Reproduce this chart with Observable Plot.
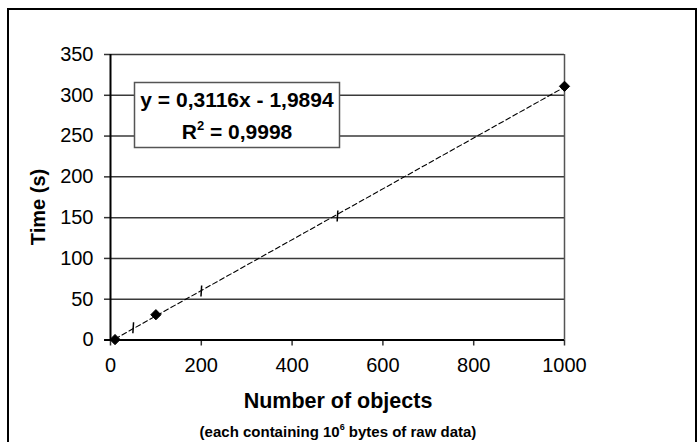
<!DOCTYPE html>
<html>
<head>
<meta charset="utf-8">
<script src="https://cdn.jsdelivr.net/npm/d3@7"></script>
<script src="https://cdn.jsdelivr.net/npm/@observablehq/plot@0.6"></script>
<style>
  html, body { margin: 0; padding: 0; background: #fff; }
  svg { display: block; }
</style>
</head>
<body>
<div id="chart"></div>
<script>
// Measured series (diamond markers)
const diamondObjects = [10, 100, 1000];
const diamondTimes   = [0.5, 31, 311];
// Measured series (short vertical markers)
const tickObjects = [50, 200, 500];
const tickTimes   = [15, 60, 152];
// Axis ticks
const xTicks = [0, 200, 400, 600, 800, 1000];
const yTicks = [0, 50, 100, 150, 200, 250, 300, 350];
// Texts
const xTitle = "Number of objects";
const xSubtitleParts = ["(each containing 10", "6", " bytes of raw data)"];
const yTitle = "Time (s)";
const eqLine1 = "y = 0,3116x - 1,9894";
const eqLine2Parts = ["R", "2", " = 0,9998"];

const diamonds = diamondObjects.map((x, i) => ({x, y: diamondTimes[i]}));
const ticksData = tickObjects.map((x, i) => ({x, y: tickTimes[i]}));
const all = [...diamonds, ...ticksData].sort((a, b) => a.x - b.x);

const vbar = {
  draw(context, size) {
    const r = Math.sqrt(size / Math.PI);
    context.moveTo(0.06 * r, -r);
    context.lineTo(-0.06 * r, r);
  }
};

const W = 697, H = 442;
const chart = Plot.plot({
  width: W,
  height: H,
  marginLeft: 110,
  marginRight: 133,
  marginTop: 54,
  marginBottom: 102.5,
  style: {fontFamily: "'Liberation Sans', Arial, sans-serif", fontSize: "20px", color: "#000", background: "#fff"},
  x: {domain: [0, 1000], ticks: xTicks, tickFormat: d => String(d)},
  y: {domain: [0, 350], ticks: yTicks, tickFormat: d => String(d)},
  marks: [
    Plot.gridY(yTicks, {stroke: "#3a3a3a", strokeOpacity: 1, strokeWidth: 1.5}),
    Plot.ruleX([1000], {stroke: "#555", strokeWidth: 1.5}),
    Plot.axisX(xTicks, {label: null, tickSize: 6, tickPadding: 12, fontSize: 20, stroke: "#333", strokeWidth: 1.5, tickFormat: d => String(d)}),
    Plot.axisY(yTicks, {label: null, tickSize: 6, tickPadding: 11, fontSize: 20, stroke: "#333", strokeWidth: 1.5, tickFormat: d => String(d)}),
    Plot.ruleY([0], {x1: -13, x2: 1000, stroke: "#000", strokeWidth: 2}),
    Plot.ruleX([0], {stroke: "#000", strokeWidth: 2}),
    Plot.linearRegressionY(all, {x: "x", y: "y", ci: 0, stroke: "#000", strokeWidth: 1.1, strokeDasharray: "5,3"}),
    Plot.dot(ticksData, {x: "x", y: "y", symbol: vbar, r: 5.5, stroke: "#000", strokeWidth: 1.5}),
    Plot.dot(diamonds, {x: "x", y: "y", symbol: "diamond2", r: 4.6, fill: "#000", stroke: "#000", strokeWidth: 1})
  ]
});
document.getElementById("chart").appendChild(chart);

const svg = d3.select(chart);
const font = "'Liberation Sans', Arial, sans-serif";

// outer chart frame
svg.append("rect")
  .attr("x", 8).attr("y", 9).attr("width", 688).attr("height", 500)
  .attr("fill", "none").attr("stroke", "#000").attr("stroke-width", 2);

// equation box
svg.append("rect")
  .attr("x", 134.5).attr("y", 82.5).attr("width", 205).attr("height", 65)
  .attr("fill", "#fff").attr("stroke", "#555").attr("stroke-width", 1.5);
svg.append("text")
  .attr("x", 237).attr("y", 107).attr("text-anchor", "middle")
  .attr("font-family", font).attr("font-weight", "bold").attr("font-size", 21)
  .text(eqLine1);
const r2 = svg.append("text")
  .attr("x", 237).attr("y", 139).attr("text-anchor", "middle")
  .attr("font-family", font).attr("font-weight", "bold").attr("font-size", 21);
r2.append("tspan").text(eqLine2Parts[0]);
r2.append("tspan").attr("dy", -9).attr("font-size", 13).text(eqLine2Parts[1]);
r2.append("tspan").attr("dy", 9).text(eqLine2Parts[2]);

// y title
svg.append("text")
  .attr("transform", "translate(45,207) rotate(-90)")
  .attr("text-anchor", "middle")
  .attr("font-family", font).attr("font-weight", "bold").attr("font-size", 20)
  .text(yTitle);

// x title
svg.append("text")
  .attr("x", 338).attr("y", 408).attr("text-anchor", "middle")
  .attr("font-family", font).attr("font-weight", "bold").attr("font-size", 21.5)
  .text(xTitle);
const sub = svg.append("text")
  .attr("x", 338).attr("y", 437).attr("text-anchor", "middle")
  .attr("font-family", font).attr("font-weight", "bold").attr("font-size", 15);
sub.append("tspan").text(xSubtitleParts[0]);
sub.append("tspan").attr("dy", -7).attr("font-size", 9).text(xSubtitleParts[1]);
sub.append("tspan").attr("dy", 7).text(xSubtitleParts[2]);
</script>
</body>
</html>
